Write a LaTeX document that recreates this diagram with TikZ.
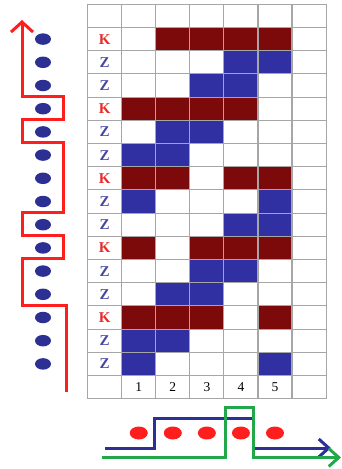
\documentclass[tikz,border=0pt]{standalone}
\usepackage{fontspec}
\setmainfont{Liberation Serif}
\usetikzlibrary{
  arrows.meta,
  shapes.geometric,
  positioning
}
\definecolor{kzRed}{HTML}{7D0A0A}
\definecolor{kzBlue}{HTML}{3030A2}
\definecolor{kzGrid}{HTML}{A6A6A6}
\definecolor{kzKtext}{HTML}{EC2A2A}
\definecolor{kzZtext}{HTML}{4848A0}
\definecolor{kzDot}{HTML}{2C3092}
\definecolor{kzLine}{HTML}{FF1E1E}
\definecolor{kzWire}{HTML}{2C2F96}
\definecolor{kzGreen}{HTML}{22A84A}
\tikzset{
  cell/.style={
    draw=kzGrid, line width=1.1pt, minimum width=34.05pt, minimum height=23.2pt,
    inner sep=0pt
  },
  K-cell/.style={cell, draw=none, fill=kzRed},
  Z-cell/.style={cell, draw=none, fill=kzBlue},
  K-text/.style={font=\fontsize{15}{15}\selectfont\bfseries, text=kzKtext},
  Z-text/.style={font=\fontsize{15}{15}\selectfont\bfseries, text=kzZtext},
  num/.style={font=\fontsize{13.5}{13.5}\selectfont, inner sep=0pt},
  dot/.style={ellipse, fill=kzDot, minimum width=16pt, minimum height=11.5pt, inner sep=0pt},
  bead/.style={ellipse, fill=kzLine, minimum width=18pt, minimum height=13pt, inner sep=0pt},
  snake/.style={-{Straight Barb[length=10pt,width=22pt]}, line width=3pt, kzLine},
  wire/.style={-{Straight Barb[length=10pt,width=18pt]}, line width=3pt, kzWire},
  gwire/.style={-{Straight Barb[length=10pt,width=18pt]}, line width=3pt, kzGreen}
}
\begin{document}
\begin{tikzpicture}[x=1pt,y=-1pt]
  \useasboundingbox (0,0) rectangle (342,469);
  \foreach \r/\lbl/\cols in {
    1/K/{2,3,4,5}, 2/Z/{4,5}, 3/Z/{3,4}, 4/K/{1,2,3,4}, 5/Z/{2,3},
    6/Z/{1,2}, 7/K/{1,2,4,5}, 8/Z/{1,5}, 9/Z/{4,5}, 10/K/{1,3,4,5},
    11/Z/{3,4}, 12/Z/{2,3}, 13/K/{1,2,3,5}, 14/Z/{1,2}, 15/Z/{1,5}}{
    \foreach \c in \cols
      \node[\lbl-cell] (f\r-\c) at ({87.7+34.05*(\c+0.5)}, {4.3+23.2*(\r+0.5)}) {};
    \node[dot] (d\r) at (43, {4.3+23.2*(\r+0.5)}) {};
  }
  \foreach \r in {0,...,16}
    \foreach \c in {0,...,6}
      \node[cell] (c\r-\c) at ({87.7+34.05*(\c+0.5)}, {4.3+23.2*(\r+0.5)}) {};
  \foreach \r/\lbl in {1/K,2/Z,3/Z,4/K,5/Z,6/Z,7/K,8/Z,9/Z,10/K,11/Z,12/Z,13/K,14/Z,15/Z}
    \node[\lbl-text] (t\r) at (c\r-0) {\lbl};
  \foreach \c in {1,...,5}
    \node[num] (n\c) at (c16-\c) {\c};

  \coordinate (rs) at (66.5,392);
  \coordinate (re) at (22,20);
  \coordinate (lx) at (22,0);
  \coordinate (rx) at (63.5,0);
  \draw[snake, line join=miter] (rs) |- (lx |- c13-0.north) |- (rx |- c11-0.north)
    |- (lx |- c10-0.north) |- (rx |- c9-0.north) |- (lx |- c6-0.north)
    |- (rx |- c5-0.north) |- (lx |- c4-0.north) -- (re);

  \coordinate (beadrow) at (0,433);
  \foreach \c in {1,...,5}
    \node[bead] (b\c) at (c16-\c |- beadrow) {};
  \coordinate (bs) at (105,448);
  \coordinate (be) at (331,448);
  \coordinate (gs) at (102,457.5);
  \coordinate (ge) at (341,457.5);
  \draw[wire, line join=miter] (bs) -| (154,418) -| (253,448) -- (be);
  \draw[gwire, line join=miter] (gs) -| (225,407.5) -| (253,457.5) -- (ge);
\end{tikzpicture}
\end{document}
